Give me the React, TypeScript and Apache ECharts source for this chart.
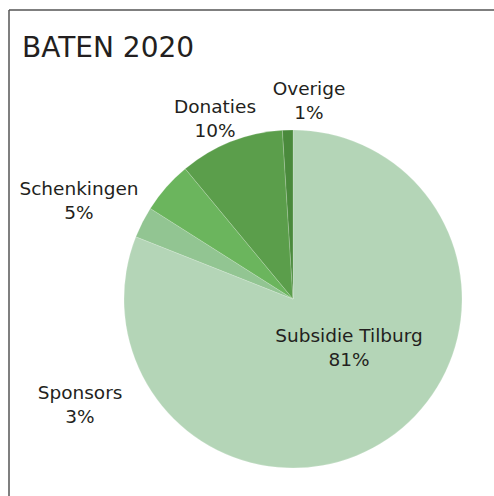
import React, { useEffect, useRef } from "react";
import * as echarts from "echarts";

const categories = ["Subsidie Tilburg", "Sponsors", "Schenkingen", "Donaties", "Overige"];
const values = [81, 3, 5, 10, 1];
const colors = ["#b4d5b7", "#92c592", "#6bb55d", "#5b9e4b", "#4a8a3c"];
const labelPositions: [number, number][] = [
  [349, 347],
  [80, 404],
  [79, 200],
  [215, 118],
  [309, 100],
];

export default function App() {
  const ref = useRef<HTMLDivElement>(null);
  useEffect(() => {
    if (!ref.current) return;
    const chart = echarts.init(ref.current, null, { renderer: "svg" });
    chart.setOption({
      animation: false,
      backgroundColor: "#ffffff",
      title: {
        text: "BATEN 2020",
        left: 22,
        top: 33,
        padding: 0,
        textStyle: { fontFamily: "DejaVu Sans", fontSize: 28, fontWeight: "normal", color: "#231f20" },
      },
      graphic: [
        { type: "line", shape: { x1: 9, y1: 10, x2: 494, y2: 10 }, style: { stroke: "#555", lineWidth: 1.5 } },
        { type: "line", shape: { x1: 9, y1: 10, x2: 9, y2: 496 }, style: { stroke: "#555", lineWidth: 1.5 } },
      ],
      series: [
        {
          type: "pie",
          center: [293, 299],
          radius: 169,
          startAngle: 90,
          clockwise: true,
          silent: true,
          itemStyle: { borderColor: "rgba(255,255,255,0.35)", borderWidth: 0.5 },
          label: {
            show: true,
            position: "inside",
            formatter: "{b}\n{d}%",
            fontFamily: "DejaVu Sans",
            fontSize: 18.5,
            lineHeight: 24,
            color: "#231f20",
            align: "center",
            verticalAlign: "middle",
          },
          labelLine: { show: false },
          labelLayout: (params: any) => {
            const p = labelPositions[params.dataIndex];
            return { x: p[0], y: p[1], align: "center", verticalAlign: "middle" };
          },
          data: categories.map((name, i) => ({
            name,
            value: values[i],
            itemStyle: { color: colors[i] },
          })),
        },
      ],
    });
    return () => chart.dispose();
  }, []);
  return (
    <div
      ref={ref}
      style={{ position: "fixed", left: 0, top: 0, width: 494, height: 496 }}
    />
  );
}
